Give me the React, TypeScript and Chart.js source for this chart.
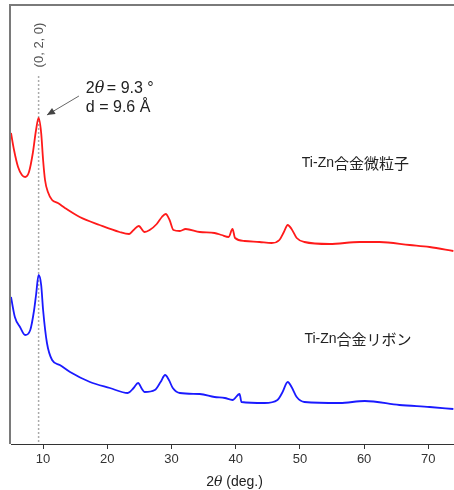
import React, { useEffect, useRef } from "react";
import { Chart, registerables } from "chart.js";

Chart.register(...registerables);

// 2θ (deg.) positions and intensities (arbitrary units, offset stacked)
const fineX = [5.0, 5.47, 6.1, 6.7, 7.2, 7.8, 8.4, 8.9, 9.3, 9.7, 10.0, 10.3, 10.75, 11.4, 12.3, 13.4, 15.7, 18.8, 21.9, 23.4, 24.1, 24.9, 25.8, 26.6, 27.7, 28.5, 29.1, 29.7, 30.3, 31.3, 32.2, 34.4, 36.7, 37.8, 38.9, 39.5, 39.9, 41.4, 43.7, 45.6, 46.8, 47.5, 48.1, 48.7, 49.5, 50.7, 54.6, 59.3, 62.4, 67.1, 70.2, 73.9];
const fineY = [311, 294, 277, 269, 267, 272, 291, 314, 326, 311, 284, 264, 252, 244, 241, 236, 227, 219, 212, 210, 214, 218, 212, 214, 220, 227, 230, 224, 214, 213, 215, 212, 211, 209, 207, 215, 206, 203, 202, 201, 204, 212, 219, 215, 206, 202, 200, 202, 202, 199, 197, 193];

const ribbonX = [5.0, 5.6, 6.4, 7.2, 8.0, 8.6, 8.9, 9.3, 9.7, 10.0, 10.6, 11.4, 12.6, 14.2, 17.3, 20.4, 23.2, 24.1, 24.8, 25.4, 25.8, 27.4, 28.3, 29.0, 29.6, 30.2, 31.3, 34.4, 36.7, 38.3, 39.5, 40.6, 40.9, 44.5, 46.5, 47.3, 48.1, 48.7, 49.5, 50.7, 56.2, 60.1, 65.5, 70.2, 73.9];
const ribbonY = [147, 127, 117, 109, 114, 134, 149, 169, 159, 134, 101, 84, 79, 72, 62, 56, 51, 56, 61, 55, 52, 54, 62, 69, 64, 56, 51, 50, 47, 46, 44, 50, 42, 41, 44, 52, 62, 57, 47, 42, 41, 43, 39, 37, 35];

const xTicks = [10, 20, 30, 40, 50, 60, 70];
const seriesNames = ["Ti-Zn合金微粒子", "Ti-Zn合金リボン"];
const peakPos = 9.3;
const peakIndex = "(0, 2, 0)";
const peakNote1 = ["2", "θ", " = 9.3 °"];
const peakNote2 = "d = 9.6 Å";

const FONT = "'Liberation Sans', Arial, sans-serif";

const annotPlugin = {
  id: "annot",
  beforeDatasetsDraw(chart: any) {
    const { ctx, chartArea, scales } = chart;
    const x = scales.x, y = scales.y;
    ctx.save();
    ctx.strokeStyle = "#aaaaaa";
    ctx.lineWidth = 1.5;
    ctx.setLineDash([2, 2]);
    const px = x.getPixelForValue(peakPos);
    ctx.beginPath();
    ctx.moveTo(px, y.getPixelForValue(368));
    ctx.lineTo(px, chartArea.bottom);
    ctx.stroke();
    ctx.restore();
  },
  afterDatasetsDraw(chart: any) {
    const { ctx, chartArea, scales } = chart;
    const x = scales.x, y = scales.y;
    ctx.save();
    ctx.strokeStyle = "#7a7a7a";
    ctx.lineWidth = 2;
    ctx.beginPath();
    ctx.moveTo(chartArea.left - 1, chartArea.bottom);
    ctx.lineTo(chartArea.left - 1, chartArea.top);
    ctx.lineTo(chartArea.right, chartArea.top);
    ctx.stroke();

    ctx.fillStyle = "#555";
    ctx.font = `13px ${FONT}`;
    ctx.save();
    ctx.translate(x.getPixelForValue(peakPos) + 1, y.getPixelForValue(399));
    ctx.rotate(-Math.PI / 2);
    ctx.textAlign = "center";
    ctx.textBaseline = "middle";
    ctx.fillText(peakIndex, 0, 0);
    ctx.restore();

    ctx.fillStyle = "#222";
    ctx.textAlign = "left";
    ctx.textBaseline = "alphabetic";
    let tx = x.getPixelForValue(16.66);
    const b1 = y.getPixelForValue(351);
    ctx.font = `16px ${FONT}`;
    ctx.fillText(peakNote1[0], tx, b1);
    tx += ctx.measureText(peakNote1[0]).width;
    ctx.font = `italic 16px 'DejaVu Serif', serif`;
    ctx.fillText(peakNote1[1], tx, b1);
    tx += ctx.measureText(peakNote1[1]).width - 2;
    ctx.font = `16px ${FONT}`;
    ctx.fillText(peakNote1[2], tx, b1);
    ctx.fillText(peakNote2, x.getPixelForValue(16.66), y.getPixelForValue(332));

    const ax0 = x.getPixelForValue(15.58), ay0 = y.getPixelForValue(348);
    const ax1 = x.getPixelForValue(10.6), ay1 = y.getPixelForValue(329);
    ctx.strokeStyle = "#666";
    ctx.fillStyle = "#444";
    ctx.lineWidth = 1;
    ctx.beginPath();
    ctx.moveTo(ax0, ay0);
    ctx.lineTo(ax1, ay1);
    ctx.stroke();
    const ang = Math.atan2(ay1 - ay0, ax1 - ax0);
    const L = 8, W = 3.5;
    ctx.beginPath();
    ctx.moveTo(ax1, ay1);
    ctx.lineTo(ax1 - L * Math.cos(ang) + W * Math.sin(ang), ay1 - L * Math.sin(ang) - W * Math.cos(ang));
    ctx.lineTo(ax1 - L * Math.cos(ang) - W * Math.sin(ang), ay1 - L * Math.sin(ang) + W * Math.cos(ang));
    ctx.closePath();
    ctx.fill();

    const drawLabel = (s: string, vx: number, vy: number) => {
      let lx = x.getPixelForValue(vx);
      const ly = y.getPixelForValue(vy);
      const latin = s.slice(0, 5);
      const cjk = s.slice(5);
      ctx.fillStyle = "#222";
      ctx.textBaseline = "middle";
      ctx.font = `14px ${FONT}`;
      ctx.fillText(latin, lx, ly);
      lx += ctx.measureText(latin).width;
      ctx.font = `15px 'Noto Sans CJK JP', sans-serif`;
      ctx.fillText(cjk, lx, ly);
    };
    drawLabel(seriesNames[0], 50.3, 281);
    drawLabel(seriesNames[1], 50.7, 105);

    ctx.fillStyle = "#222";
    ctx.textBaseline = "middle";
    const parts: [string, string][] = [
      ["2", `14px ${FONT}`],
      ["θ", `italic 14px 'DejaVu Serif', serif`],
      [" (deg.)", `14px ${FONT}`],
    ];
    let total = 0;
    parts.forEach(([t, f]) => { ctx.font = f; total += ctx.measureText(t).width; });
    let cx = (chartArea.left + chartArea.right) / 2 + 2 - total / 2;
    const cy = chartArea.bottom + 38;
    parts.forEach(([t, f]) => { ctx.font = f; ctx.fillText(t, cx, cy); cx += ctx.measureText(t).width; });
    ctx.restore();
  },
};

export default function App() {
  const ref = useRef<HTMLCanvasElement | null>(null);
  useEffect(() => {
    if (!ref.current) return;
    const chart = new Chart(ref.current, {
      type: "line",
      data: {
        datasets: [
          {
            label: seriesNames[0],
            data: fineX.map((v, i) => ({ x: v, y: fineY[i] })),
            borderColor: "#ff1a1a",
            borderWidth: 1.8,
            pointRadius: 0,
            cubicInterpolationMode: "monotone",
          },
          {
            label: seriesNames[1],
            data: ribbonX.map((v, i) => ({ x: v, y: ribbonY[i] })),
            borderColor: "#1a1aff",
            borderWidth: 1.8,
            pointRadius: 0,
            cubicInterpolationMode: "monotone",
          },
        ],
      },
      options: {
        animation: false,
        responsive: false,
        layout: { padding: { left: 11, top: 5, right: 0, bottom: 0 } },
        plugins: { legend: { display: false }, tooltip: { enabled: false } },
        scales: {
          x: {
            type: "linear",
            min: 5,
            max: 74,
            afterBuildTicks: (s: any) => { s.ticks = xTicks.map((v) => ({ value: v })); },
            afterFit: (s: any) => { s.height = 46; },
            grid: { drawOnChartArea: false, drawTicks: true, tickLength: 5, color: "#333" },
            border: { color: "#333", width: 1 },
            ticks: { font: { family: FONT, size: 13 }, color: "#333", padding: 3, maxRotation: 0 },
          },
          y: { display: false, min: 0, max: 439 },
        },
      },
      plugins: [annotPlugin],
    } as any);
    return () => chart.destroy();
  }, []);
  return (
    <div style={{ position: "absolute", left: 0, top: 0, width: 454, height: 490, background: "#fff" }}>
      <canvas ref={ref} width={454} height={490} style={{ display: "block" }} />
    </div>
  );
}
